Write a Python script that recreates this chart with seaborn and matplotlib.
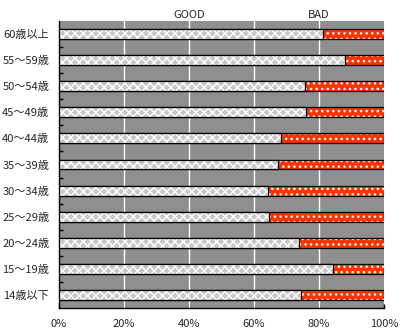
import matplotlib
matplotlib.use("Agg")
import matplotlib.pyplot as plt
import seaborn as sns
import pandas as pd
from matplotlib.colors import to_rgba
from matplotlib.ticker import FixedLocator

categories = ["60歳以上", "55～59歳", "50～54歳", "45～49歳", "40～44歳", "35～39歳",
              "30～34歳", "25～29歳", "20～24歳", "15～19歳", "14歳以下"]
good = [81.1, 88.1, 75.6, 76.1, 68.4, 67.5, 64.2, 64.5, 73.7, 84.4, 74.6]
bad = [18.9, 11.9, 24.4, 23.9, 31.6, 32.5, 35.8, 35.5, 26.3, 15.6, 25.4]
xticks = [0, 20, 40, 60, 80, 100]
xticklabels = ["0%", "20%", "40%", "60%", "80%", "100%"]
series_labels = ["GOOD", "BAD"]

sns.set_style("white")
plt.rcParams['font.family'] = ['Noto Sans CJK JP', 'DejaVu Sans']

df = pd.DataFrame({"cat": categories, "good": good, "bad": bad})
df["total"] = df["good"] + df["bad"]

fig = plt.figure(figsize=(4.03, 3.30), dpi=100)
ax = fig.add_axes([59/403, 22/330, 325/403, 287/330])
ax.set_facecolor("#8f8f8f")

sns.barplot(data=df, x="total", y="cat", orient="h", color="#ff3300",
            width=0.38, saturation=1, ax=ax, zorder=3)
n_red = len(ax.patches)
sns.barplot(data=df, x="good", y="cat", orient="h", color="#c4c4c4",
            width=0.38, saturation=1, ax=ax, zorder=4)

for i, p in enumerate(ax.patches):
    p.set_linewidth(0.9)
    if i < n_red:
        p.set_hatch("...")
        p.set_facecolor("#ff3300")
    else:
        p.set_hatch("xxxx")
        p.set_facecolor("#c8c8c8")
    p.set_edgecolor("black")
    p._hatch_color = to_rgba("white")

ax.set_xlim(0, 100)
ax.set_ylim(len(categories) - 0.5, -0.5)
ax.set_xticks(xticks)
ax.set_xticklabels(xticklabels)
for x in xticks[1:-1]:
    ax.axvline(x, color="white", lw=1, zorder=1)

ax.yaxis.set_minor_locator(FixedLocator([k + 0.5 for k in range(len(categories) - 1)]))
ax.tick_params(axis="y", which="major", length=0, pad=7, labelsize=8)
ax.tick_params(axis="y", which="minor", direction="in", length=3, width=1, color="black", left=True)
ax.tick_params(axis="x", which="major", direction="in", length=3, width=1, color="black",
               bottom=True, pad=8, labelsize=8)

ax.set_xlabel("")
ax.set_ylabel("")
for s in ["top", "right"]:
    ax.spines[s].set_visible(False)
for s in ["left", "bottom"]:
    ax.spines[s].set_color("black")
    ax.spines[s].set_linewidth(1)

ax.text(40, 1.021, series_labels[0], transform=ax.get_xaxis_transform(),
        ha="center", va="center", fontsize=8)
ax.text(80, 1.021, series_labels[1], transform=ax.get_xaxis_transform(),
        ha="center", va="center", fontsize=8)

fig.savefig("out.png", dpi=100, facecolor="white")
